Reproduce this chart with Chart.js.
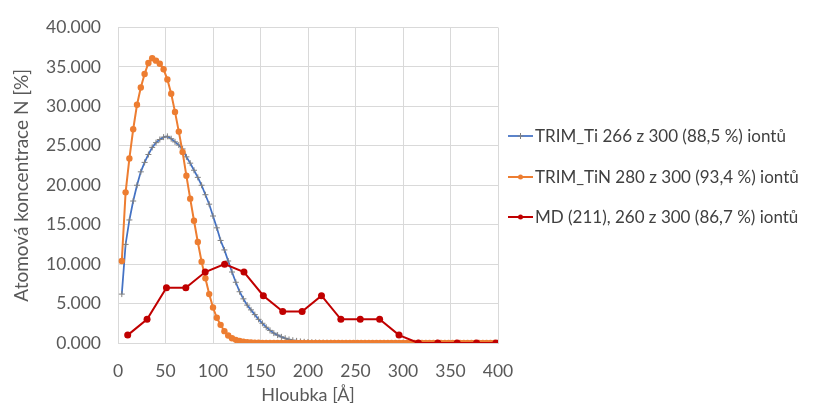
<!DOCTYPE html>
<html>
<head>
<meta charset="utf-8">
<script src="https://cdn.jsdelivr.net/npm/chart.js@4"></script>
<style>
  html, body { margin: 0; padding: 0; background: #ffffff; }
  #c { display: block; }
</style>
</head>
<body>
<canvas id="c" width="815" height="406"></canvas>
<script>
// Depth grid of the TRIM profiles [Å]
const trimDepth = [
  4, 8, 12, 16, 20, 24, 28, 32, 36, 40, 44, 48, 52, 56, 60, 64, 68, 72, 76, 80,
  84, 88, 92, 96, 100, 104, 108, 112, 116, 120, 124, 128, 132, 136, 140, 144, 148, 152, 156, 160,
  164, 168, 172, 176, 180, 184, 188, 192, 196, 200, 204, 208, 212, 216, 220, 224, 228, 232, 236, 240,
  244, 248, 252, 256, 260, 264, 268, 272, 276, 280, 284, 288, 292, 296, 300, 304, 308, 312, 316, 320,
  324, 328, 332, 336, 340, 344, 348, 352, 356, 360, 364, 368, 372, 376, 380, 384, 388, 392, 396, 400
];

// TRIM, Ti target: N concentration [%]
const trimTi = [
  6.2, 12.5, 15.6, 18.0, 20.0, 21.7, 22.9, 23.9, 24.8, 25.4, 25.8, 26.1, 26.2, 25.9, 25.5, 25.1, 24.6, 23.6, 22.8, 21.9,
  21.0, 20.0, 18.8, 17.6, 16.1, 14.6, 13.0, 11.8, 10.4, 9.0, 7.7, 6.5, 5.6, 4.8, 4.2, 3.6, 3.0, 2.5, 2.0, 1.6,
  1.25, 1.0, 0.78, 0.6, 0.45, 0.35, 0.27, 0.2, 0.15, 0.11, 0.08, 0.06, 0.04, 0.03, 0.02, 0.02, 0.01, 0.01, 0, 0,
  0, 0, 0, 0, 0, 0, 0, 0, 0, 0, 0, 0, 0, 0, 0, 0, 0, 0, 0, 0,
  0, 0, 0, 0, 0, 0, 0, 0, 0, 0, 0, 0, 0, 0, 0, 0, 0, 0, 0, 0
];

// TRIM, TiN target: N concentration [%]
const trimTiN = [
  10.4, 19.1, 23.4, 27.1, 30.2, 32.4, 34.1, 35.5, 36.1, 35.8, 35.4, 34.7, 33.4, 31.6, 29.3, 26.8, 24.2, 21.2, 18.3, 15.5,
  12.8, 10.3, 8.2, 6.2, 4.5, 3.2, 2.3, 1.5, 0.95, 0.6, 0.4, 0.25, 0.16, 0.1, 0.07, 0.05, 0.03, 0.02, 0.02, 0.01,
  0.01, 0, 0, 0, 0, 0, 0, 0, 0, 0, 0, 0, 0, 0, 0, 0, 0, 0, 0, 0,
  0, 0, 0, 0, 0, 0, 0, 0, 0, 0, 0, 0, 0, 0, 0, 0, 0, 0, 0, 0,
  0, 0, 0, 0, 0, 0, 0, 0, 0, 0, 0, 0, 0, 0, 0, 0, 0, 0, 0, 0
];

// Molecular dynamics, (211) orientation: bin centres [Å] and N concentration [%]
const mdDepth = [10.2, 30.6, 51.0, 71.4, 91.8, 112.2, 132.6, 153.0, 173.4, 193.8,
                 214.2, 234.6, 255.0, 275.4, 295.8, 316.2, 336.6, 357.0, 377.4, 397.8];
const md211 = [1, 3, 7, 7, 9, 10, 9, 6, 4, 4, 6, 3, 3, 3, 1, 0, 0, 0, 0, 0];

const seriesLabels = [
  'TRIM_Ti 266 z 300 (88,5 %) iontů',
  'TRIM_TiN 280 z 300 (93,4 %) iontů',
  'MD (211), 260 z 300 (86,7 %) iontů'
];

const xTitle = 'Hloubka [Å]';
const yTitle = 'Atomová koncentrace N [%]';

const FONT = 'Lato, "Open Sans", "DejaVu Sans", sans-serif';
const TEXT = '#595959';
const GRID = '#d9d9d9';

function pairs(xs, ys) {
  return xs.map((x, i) => ({ x: x, y: ys[i] }));
}

// Legend drawn at the right: a short line with the series marker, then the label
const sideLegend = {
  id: 'sideLegend',
  afterDraw(chart) {
    const ctx = chart.ctx;
    const x0 = 508, x1 = 533, tx = 535;
    const rows = [136, 177, 217];
    ctx.save();
    chart.data.datasets.forEach((ds, i) => {
      const y = rows[i];
      ctx.strokeStyle = ds.borderColor;
      ctx.lineWidth = ds.borderWidth;
      ctx.beginPath();
      ctx.moveTo(x0, y);
      ctx.lineTo(x1, y);
      ctx.stroke();
      const cx = (x0 + x1) / 2;
      if (ds.pointStyle === 'cross') {
        ctx.strokeStyle = ds.pointBorderColor;
        ctx.lineWidth = 1;
        ctx.beginPath();
        ctx.moveTo(cx - 3, y); ctx.lineTo(cx + 3, y);
        ctx.moveTo(cx, y - 3); ctx.lineTo(cx, y + 3);
        ctx.stroke();
      } else {
        ctx.fillStyle = ds.pointBackgroundColor;
        ctx.beginPath();
        ctx.arc(cx, y, 2.5, 0, Math.PI * 2);
        ctx.fill();
      }
      ctx.fillStyle = '#404040';
      ctx.font = '17px ' + FONT;
      ctx.textAlign = 'left';
      ctx.textBaseline = 'middle';
      ctx.fillText(ds.label, tx, y + 1);
    });
    ctx.restore();
  }
};

new Chart(document.getElementById('c'), {
  type: 'line',
  data: {
    datasets: [
      {
        label: seriesLabels[0],
        data: pairs(trimDepth, trimTi),
        borderColor: '#4472C4',
        borderWidth: 1.75,
        pointStyle: 'cross',
        pointRadius: 3,
        pointBorderWidth: 1,
        pointBorderColor: '#808080',
        pointBackgroundColor: '#808080',
        tension: 0,
        order: 3
      },
      {
        label: seriesLabels[1],
        data: pairs(trimDepth, trimTiN),
        borderColor: '#ED7D31',
        borderWidth: 2,
        pointStyle: 'circle',
        pointRadius: 3.2,
        pointBorderWidth: 0,
        pointBackgroundColor: '#ED7D31',
        tension: 0,
        order: 2
      },
      {
        label: seriesLabels[2],
        data: pairs(mdDepth, md211),
        borderColor: '#C00000',
        borderWidth: 2,
        pointStyle: 'circle',
        pointRadius: 3.5,
        pointBorderWidth: 0,
        pointBackgroundColor: '#C00000',
        tension: 0,
        order: 1
      }
    ]
  },
  options: {
    responsive: false,
    animation: false,
    devicePixelRatio: 1,
    layout: { padding: { left: 0, right: 317, top: 23, bottom: 0 } },
    plugins: {
      legend: { display: false },
      tooltip: { enabled: false }
    },
    scales: {
      x: {
        type: 'linear',
        min: 0,
        max: 400,
        afterFit(scale) { scale.height = 63; },
        ticks: {
          stepSize: 50,
          padding: 18,
          color: TEXT,
          font: { family: FONT, size: 17.5 },
          maxRotation: 0
        },
        grid: { color: GRID, lineWidth: 1, drawTicks: false },
        border: { color: GRID },
        title: {
          display: true,
          text: xTitle,
          color: TEXT,
          font: { family: FONT, size: 18 },
          padding: { top: 0, bottom: 0 }
        }
      },
      y: {
        min: 0,
        max: 40,
        afterFit(scale) { scale.width = 118; },
        ticks: {
          stepSize: 5,
          padding: 17,
          color: TEXT,
          font: { family: FONT, size: 17.5 },
          callback: (v) => Number(v).toFixed(3)
        },
        grid: { color: GRID, lineWidth: 1, drawTicks: false },
        border: { color: GRID },
        title: {
          display: true,
          text: yTitle,
          color: TEXT,
          font: { family: FONT, size: 19 },
          padding: { top: 10, bottom: 0 }
        }
      }
    }
  },
  plugins: [sideLegend]
});
</script>
</body>
</html>
